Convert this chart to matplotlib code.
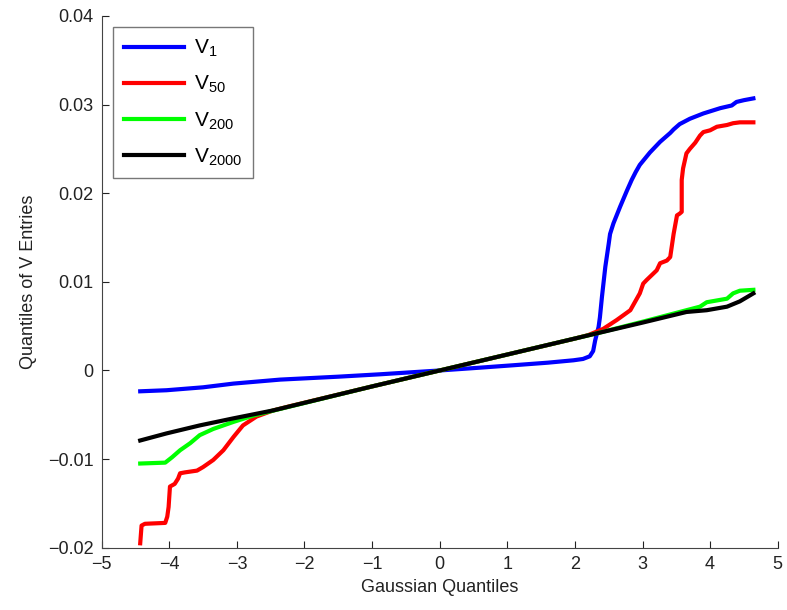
import matplotlib
matplotlib.use('Agg')
import matplotlib.pyplot as plt
from matplotlib.ticker import FuncFormatter

plt.rcParams['font.family'] = ['Liberation Sans', 'DejaVu Sans']
plt.rcParams['mathtext.fontset'] = 'custom'
plt.rcParams['mathtext.rm'] = 'Liberation Sans'
plt.rcParams['mathtext.it'] = 'Liberation Sans'

# quantile curves
v1_x = [-4.43, -4.04, -3.5, -3.05, -2.36, -1.5, -0.88, 0, 0.6, 1.09, 1.6, 1.98, 2.12, 2.22,
        2.27, 2.30, 2.35, 2.37, 2.40, 2.45, 2.50, 2.52, 2.57, 2.67, 2.77, 2.84, 2.90, 2.96,
        3.11, 3.26, 3.41, 3.46, 3.55, 3.70, 3.90, 4.15, 4.32, 4.39, 4.50, 4.64]
v1_y = [-0.00235, -0.00223, -0.0019, -0.00148, -0.00103, -0.0007, -0.00043, 0, 0.00032,
        0.00059, 0.00088, 0.00115, 0.0013, 0.0016, 0.0022, 0.0034, 0.0049, 0.006, 0.0083,
        0.0117, 0.0143, 0.0154, 0.0166, 0.0185, 0.0203, 0.0215, 0.0224, 0.0232, 0.0246,
        0.0258, 0.0268, 0.0272, 0.0278, 0.0284, 0.029, 0.0296, 0.0299, 0.0303, 0.0305, 0.0307]

v50_x = [-4.43, -4.41, -4.36, -4.06, -4.03, -4.01, -3.99, -3.92, -3.87, -3.84, -3.77, -3.59,
         -3.50, -3.35, -3.20, -3.05, -2.91, -2.71, -2.46, -2.2, -1, 0, 1, 2.0, 2.2, 2.42,
         2.62, 2.82, 2.96, 3.01, 3.06, 3.21, 3.26, 3.36, 3.41, 3.46, 3.51, 3.55, 3.58, 3.58,
         3.60, 3.65, 3.70, 3.78, 3.85, 3.90, 4.0, 4.10, 4.25, 4.34, 4.44, 4.64]
v50_y = [-0.0195, -0.0175, -0.0173, -0.0172, -0.0165, -0.0154, -0.0131, -0.0128, -0.0122,
         -0.0116, -0.0115, -0.0113, -0.0109, -0.0101, -0.009, -0.0075, -0.0062, -0.0052,
         -0.0045, -0.0040, -0.0018, 0, 0.0018, 0.0036, 0.0040, 0.0047, 0.0057, 0.0068,
         0.0087, 0.0098, 0.0102, 0.0113, 0.0121, 0.0124, 0.0128, 0.0154, 0.0175, 0.0177,
         0.0179, 0.0215, 0.0228, 0.0245, 0.0250, 0.0257, 0.0265, 0.0269, 0.0271, 0.0275,
         0.0277, 0.0279, 0.028, 0.028]

v200_x = [-4.43, -4.06, -3.96, -3.84, -3.69, -3.55, -3.35, -3.05, -2.76, -2.5, -1, 0, 1,
          2.33, 3.0, 3.5, 3.85, 3.95, 4.1, 4.25, 4.34, 4.44, 4.64]
v200_y = [-0.0105, -0.0104, -0.0098, -0.009, -0.0082, -0.0073, -0.0066, -0.0058, -0.0051,
          -0.0046, -0.0018, 0, 0.0018, 0.0042, 0.0055, 0.0065, 0.0072, 0.0077, 0.0079,
          0.0081, 0.0087, 0.009, 0.0091]

v2000_x = [-4.43, -4.04, -3.55, -3.05, -2.46, -1, 0, 1, 2.33, 3.0, 3.65, 3.95, 4.25, 4.44, 4.64]
v2000_y = [-0.0079, -0.0071, -0.0062, -0.0054, -0.0045, -0.0018, 0, 0.0018, 0.0042,
           0.0054, 0.0066, 0.0068, 0.0072, 0.0078, 0.0087]

fig = plt.figure(figsize=(7.87, 6.10), dpi=100)
ax = fig.add_axes([0.1292, 0.1021, 0.859, 0.8717])

ax.plot(v1_x, v1_y, color=(0, 0, 1), lw=3, label=r'$\mathregular{V_{1}}$')
ax.plot(v50_x, v50_y, color=(1, 0, 0), lw=3, label=r'$\mathregular{V_{50}}$')
ax.plot(v200_x, v200_y, color=(0, 1, 0), lw=3, label=r'$\mathregular{V_{200}}$')
ax.plot(v2000_x, v2000_y, color='black', lw=3, label=r'$\mathregular{V_{2000}}$')

ax.set_xlim(-5, 5)
ax.set_ylim(-0.02, 0.04)
ax.set_xticks(range(-5, 6))
ax.set_yticks([-0.02, -0.01, 0, 0.01, 0.02, 0.03, 0.04])
fmt = FuncFormatter(lambda v, p: ('%g' % round(v, 4)).replace('-', '\u2212'))
ax.xaxis.set_major_formatter(fmt)
ax.yaxis.set_major_formatter(fmt)
ax.spines['top'].set_visible(False)
ax.spines['right'].set_visible(False)
for s in ['left', 'bottom']:
    ax.spines[s].set_color('#444444')
ax.tick_params(direction='in', length=5, labelsize=13, colors='#222222', pad=6)

ax.set_xlabel('Gaussian Quantiles', fontsize=13, color='#222222', labelpad=4)
ax.set_ylabel('Quantiles of V Entries', fontsize=13, color='#222222', labelpad=8)

leg = ax.legend(loc='upper left', fontsize=15, frameon=True, fancybox=False,
                edgecolor='#555555', handlelength=2.9, handletextpad=0.5,
                labelspacing=0.72, borderaxespad=0.55, borderpad=0.5)
leg.get_frame().set_linewidth(1)

fig.savefig('out.png', dpi=100)
